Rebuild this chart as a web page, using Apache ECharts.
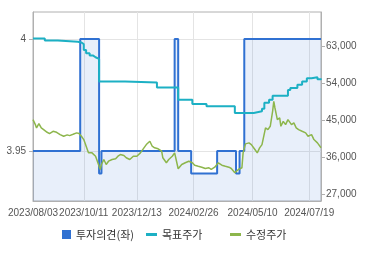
<!DOCTYPE html>
<html><head><meta charset="utf-8">
<script src="https://cdn.jsdelivr.net/npm/echarts@6/dist/echarts.min.js"></script>
<style>html,body{margin:0;padding:0;background:#fff}#c{width:370px;height:255px}</style>
</head><body><div id="c"></div>
<script>
// Trading calendar (KRX)
const startDate = [2023, 8, 3];
const endDate = [2024, 8, 2];
const holidays = ['2023/08/15','2023/09/28','2023/09/29','2023/10/02','2023/10/03','2023/10/09',
  '2023/12/25','2023/12/29','2024/01/01','2024/02/09','2024/02/12','2024/03/01','2024/04/10',
  '2024/05/01','2024/05/06','2024/05/15','2024/06/06'];
const xLabels = ['2023/08/03','2023/10/11','2023/12/13','2024/02/26','2024/05/10','2024/07/19'];

// 투자의견 (left axis), step values at change dates
const opinionDates = ['2023/08/03','2023/10/05','2023/10/30','2023/11/01','2024/01/31','2024/02/05',
  '2024/02/22','2024/03/26','2024/04/18','2024/04/23','2024/04/29','2024/08/02'];
const opinionValues = [3.95, 4, 3.94, 3.95, 4, 3.95, 3.94, 3.95, 3.94, 3.95, 4, 4];

// 목표주가 (right axis)
const targetDates = ['2023/08/03','2023/08/18','2023/09/04','2023/09/27','2023/10/06','2023/10/11','2023/10/13',
  '2023/10/18','2023/10/23','2023/10/25','2023/10/26','2023/10/30','2023/11/29','2024/01/10','2024/02/05',
  '2024/02/23','2024/03/13','2024/04/17','2024/05/13','2024/05/23','2024/05/27','2024/05/31','2024/06/05',
  '2024/06/25','2024/06/27','2024/07/05','2024/07/11','2024/07/17','2024/07/23','2024/07/30','2024/08/02'];
const targetValues = [65000,64500,64200,64000,63600,62200,61400,60800,60400,60200,60000,54500,54250,53000,50000,
  49000,48450,46800,47200,47800,49300,50000,51000,52400,52900,53700,54500,55300,55500,55000,55200];

// 수정주가 (right axis)
const priceDates = ['2023/08/03','2023/08/07','2023/08/08','2023/08/10','2023/08/14','2023/08/17','2023/08/22',
  '2023/08/24','2023/08/29','2023/09/01','2023/09/06','2023/09/11','2023/09/14','2023/09/18','2023/09/21',
  '2023/09/26','2023/10/04','2023/10/06','2023/10/11','2023/10/12','2023/10/16','2023/10/17','2023/10/20',
  '2023/10/25','2023/10/26','2023/10/30','2023/10/31','2023/11/01','2023/11/03','2023/11/07','2023/11/09',
  '2023/11/14','2023/11/17','2023/11/21','2023/11/23','2023/11/28','2023/11/30','2023/12/05','2023/12/08',
  '2023/12/13','2023/12/18','2023/12/21','2023/12/26','2024/01/02','2024/01/04','2024/01/08','2024/01/11',
  '2024/01/16','2024/01/17','2024/01/22','2024/01/24','2024/01/29','2024/01/31','2024/02/05','2024/02/08',
  '2024/02/15','2024/02/20','2024/02/23','2024/02/27','2024/03/04','2024/03/07','2024/03/12','2024/03/15',
  '2024/03/19','2024/03/22','2024/03/27','2024/04/01','2024/04/04','2024/04/09','2024/04/12','2024/04/17',
  '2024/04/22','2024/04/25','2024/04/26','2024/04/30','2024/05/07','2024/05/09','2024/05/14','2024/05/17',
  '2024/05/21','2024/05/23','2024/05/28','2024/05/30','2024/06/03','2024/06/05','2024/06/07','2024/06/10',
  '2024/06/12','2024/06/14','2024/06/17','2024/06/19','2024/06/21','2024/06/25','2024/06/28','2024/07/02',
  '2024/07/04','2024/07/08','2024/07/11','2024/07/16','2024/07/18','2024/07/23','2024/07/25','2024/07/30',
  '2024/07/31','2024/08/02'];
const priceValues = [45170,43950,43150,44190,43150,42730,42080,41760,42320,42080,41520,41100,41440,41270,41590,
  41930,41760,41100,40300,39500,37870,37060,37060,36240,35430,33800,33000,34220,35430,34220,35020,
  35430,35600,36240,36650,36410,35850,35430,36240,36240,37060,38280,39080,39890,38670,38280,38040,
  37450,35850,34630,35430,36240,37060,33170,34220,34630,35020,34630,34050,33800,33560,33240,33420,
  33000,33560,34630,34050,33800,33560,33240,32200,33000,33420,37060,39250,39500,39080,37870,37060,
  38280,39080,43150,42730,43540,47190,49620,48010,45170,45580,43540,44750,43950,45170,43950,44360,
  43150,42730,42320,41930,41100,41520,40300,39500,39080,38300];

const leftTicks = [3.95, 4];
const rightTicks = [27000, 36000, 45000, 54000, 63000];
const seriesNames = ['투자의견(좌)', '목표주가', '수정주가'];

function pad(n){return (n<10?'0':'')+n;}
function fmt(d){return d.getUTCFullYear()+'/'+pad(d.getUTCMonth()+1)+'/'+pad(d.getUTCDate());}
const categories = [];
(function(){
  let d = new Date(Date.UTC(startDate[0], startDate[1]-1, startDate[2]));
  const e = new Date(Date.UTC(endDate[0], endDate[1]-1, endDate[2]));
  while (d <= e) {
    const wd = d.getUTCDay(); const s = fmt(d);
    if (wd !== 0 && wd !== 6 && holidays.indexOf(s) < 0) categories.push(s);
    d = new Date(d.getTime() + 86400000);
  }
})();
const pairs = (ds, vs) => ds.map((d, i) => [d, vs[i]]);
const showAt = (i, v) => xLabels.indexOf(v) >= 0;

const FONT = 'Liberation Sans';
const chart = echarts.init(document.getElementById('c'), null, {renderer: 'canvas'});
const lg = (name, left, w, h) => ({
  data: [name], left: left, top: 229, icon: 'rect', itemWidth: w, itemHeight: h, padding: 0,
  selectedMode: false, textStyle: {fontSize: 11, color: '#333', fontFamily: 'Noto Sans CJK KR'}
});
chart.setOption({
  animation: false,
  grid: {left: 33, right: 49, top: 12, bottom: 54, show: true, borderColor: '#b0b0b0', borderWidth: 1},
  legend: [lg(seriesNames[0], 62, 9, 9), lg(seriesNames[1], 146, 11, 3), lg(seriesNames[2], 230, 11, 3)],
  xAxis: {
    type: 'category', data: categories, boundaryGap: false,
    axisLine: {lineStyle: {color: '#b0b0b0'}}, axisTick: {show: false},
    axisLabel: {interval: showAt, margin: 7, fontSize: 10, color: '#555', fontFamily: FONT},
    splitLine: {show: true, interval: showAt, lineStyle: {color: '#e4e4e4'}}
  },
  yAxis: [{
    type: 'value', min: 3.9277, max: 4.0121, position: 'left',
    axisLine: {show: true, lineStyle: {color: '#b0b0b0'}},
    axisTick: {show: true, length: 4, customValues: leftTicks, lineStyle: {color: '#b0b0b0'}},
    axisLabel: {customValues: leftTicks, margin: 7, fontSize: 10, color: '#555', fontFamily: FONT, formatter: v => String(v)},
    splitLine: {show: true, lineStyle: {color: '#e4e4e4'}}
  }, {
    type: 'value', min: 25300, max: 71450, position: 'right',
    axisLine: {show: true, lineStyle: {color: '#b0b0b0'}},
    axisTick: {show: true, length: 4, customValues: rightTicks, lineStyle: {color: '#b0b0b0'}},
    axisLabel: {customValues: rightTicks, margin: 5, fontSize: 10, color: '#555', fontFamily: FONT,
      formatter: v => v.toLocaleString('en-US')},
    splitLine: {show: false}
  }],
  series: [{
    name: seriesNames[0], type: 'line', yAxisIndex: 0, step: 'end', showSymbol: false,
    data: pairs(opinionDates, opinionValues), color: '#3071d2',
    lineStyle: {width: 2, color: '#3071d2'},
    areaStyle: {color: 'rgba(58,120,216,0.17)', origin: 'start'}
  }, {
    name: seriesNames[1], type: 'line', yAxisIndex: 1, step: 'end', showSymbol: false,
    data: pairs(targetDates, targetValues), color: '#1cb0c4',
    lineStyle: {width: 2, color: '#1cb0c4'}
  }, {
    name: seriesNames[2], type: 'line', yAxisIndex: 1, showSymbol: false,
    data: pairs(priceDates, priceValues), color: '#8db64c',
    lineStyle: {width: 1.5, color: '#8db64c'}
  }]
});
</script></body></html>
